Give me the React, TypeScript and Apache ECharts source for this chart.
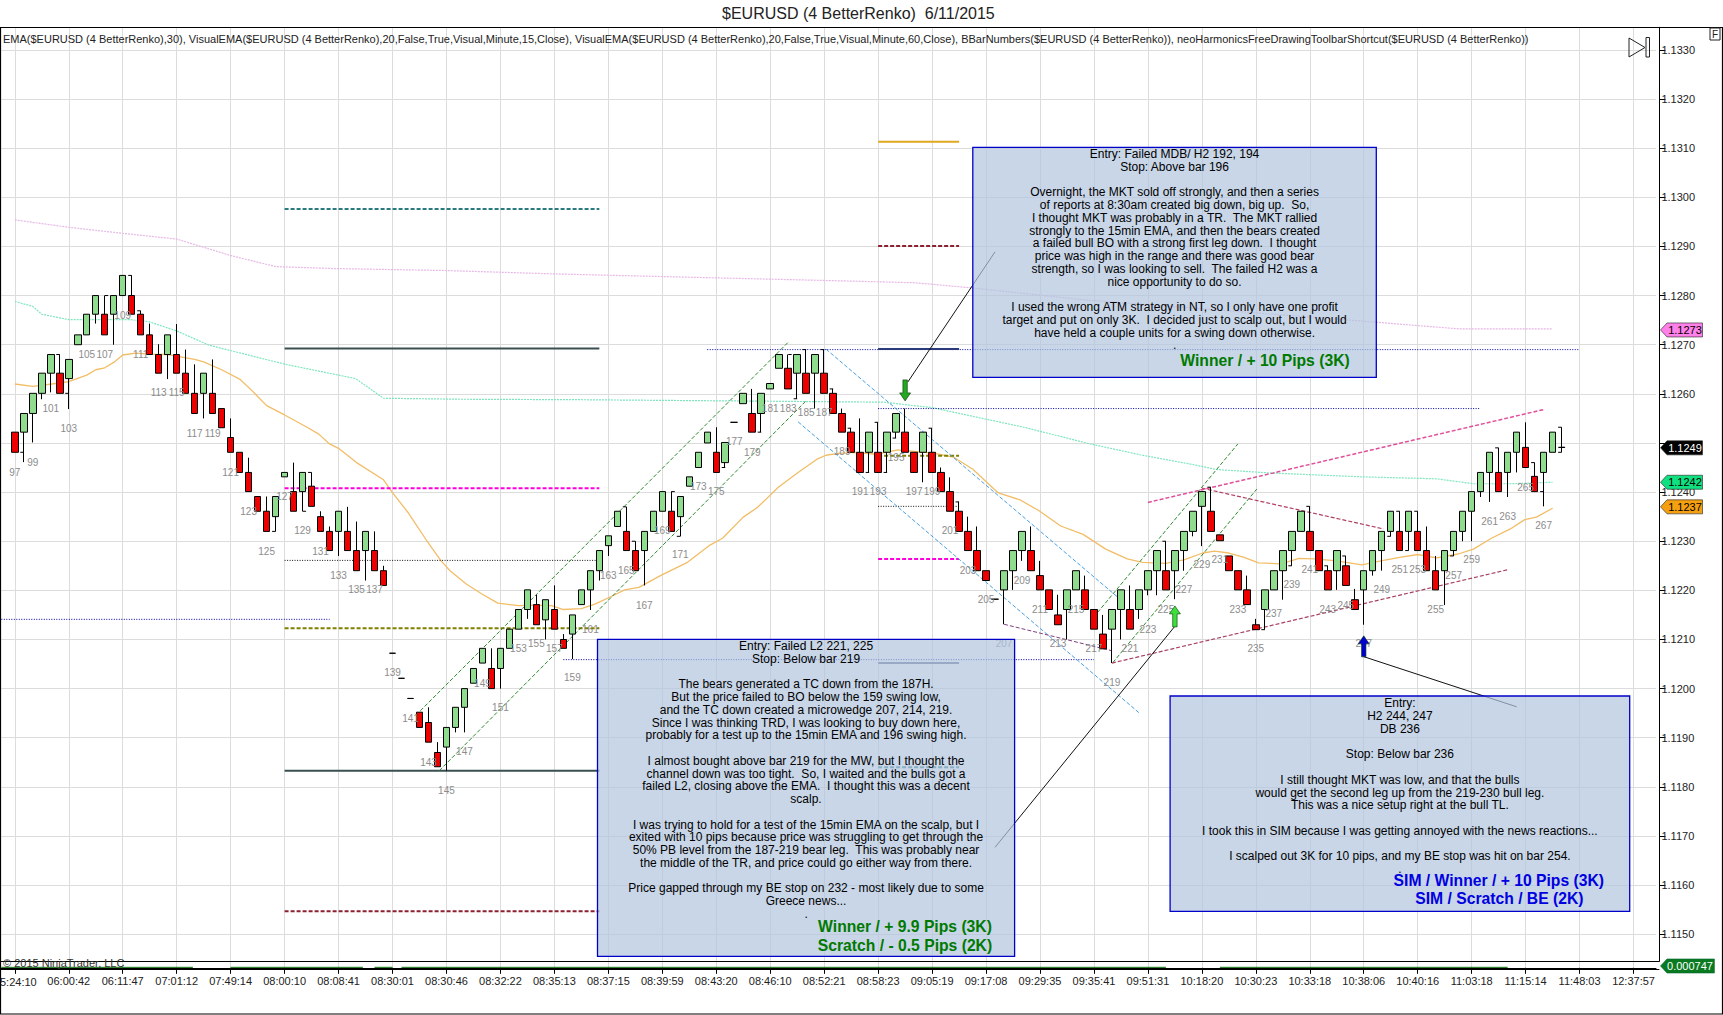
import React, { useEffect, useRef } from "react";
import * as echarts from "echarts";

const firstBar = 97;
// [open, close, low, high] for bars 97..269
const candlePips = [
[52.2,48.1,48.1,52.2],[52.2,56,46.1,56],[56,60.1,50.1,60.1],[60.1,64.2,58.9,64.2],[64.2,68,60.3,68],[64.2,60.1,60.1,68],[63.1,67,56.9,67],
[70,72,70,72],[72,76.2,72,76.2],[76.2,80,74.3,80],[76.2,72,72,80],[76.2,80,70,80],[80,84.1,80,84.1],[80,76.2,76.2,84.1],[76.2,72,72,76.9],
[72,68,68,74.3],[68,64.2,64.2,70.1],[68,72,63,72],[68,64.2,64.2,74.2],[64.2,60.1,60.1,69],[60.1,56,56,66],[60.1,64.2,55,64.2],[60.1,56,56,67],
[57,53.1,53.1,57],[51.1,48.1,48.1,55],[48.1,44,44,48.1],[44,40.1,40.1,47],[39.1,36.1,36.1,39.1],[36.1,32,32,39.1],[35,39.1,32,39.1],
[43.1,44,43.1,44],[40.1,36.1,36.1,46],[40.1,44,36.1,44],[41.2,37.1,37.1,44],[35,32,32,36.1],[32,28.1,28.1,33],[32,36.1,27,36.1],[32,28.1,28.1,37],
[28.1,24,24,34],[28.1,32,22,32],[28.1,24,24,32],[24,21,21,25],[7.2,7.2,7.2,7.2],[2.1,2.1,2.1,2.1],[-2,-2,-2,-2],[-4.8,-7.9,-7.9,-4.8],
[-6.9,-10.9,-10.9,-3.8],[-13,-15.9,-15.9,-10.9],[-11.9,-7.9,-16.7,-7.9],[-7.9,-3.8,-8.9,-3.8],[-3.8,0,-8.9,0],[1.1,4.1,1.1,4.1],[5.2,8.2,5.2,8.2],
[4.1,0,0,8.2],[4.1,8.2,0,8.2],[8.2,12.1,8.2,12.1],[12.1,16.1,12.1,16.1],[16.1,20.1,14.2,20.1],[17.1,13,13,19.1],[14,18.1,10,18.1],[16.1,12.1,12.1,21],
[10,8.2,8.2,11.1],[11.1,15,6,15],[17.1,20.1,17.1,20.1],[20.1,24,16,24],[24,28.1,22,28.1],[29.1,31.1,27,31.1],[33,36.1,33,36.1],[32,28.1,28.1,37],
[28.1,24,24,30],[28.1,32,21,32],[32,36.1,32,36.1],[36.1,40.1,36.1,40.1],[36.1,32,32,40.1],[35,39.1,31,39.1],[41.2,43.1,41.2,43.1],[45,48.1,45,48.1],
[50,52.2,50,52.2],[48.1,44,44,53.2],[46,50.1,45,50.1],[54.2,54.2,54.2,54.2],[58,60.1,58,60.1],[56,52.2,52.2,61],[56,60.1,52.2,60.1],[61,62.1,61,62.1],
[65.2,68,65.2,68],[65.2,61,61,68],[64.2,68,59,68],[64.2,60.1,60.1,69],[64.2,68,57,68],[64.2,60.1,60.1,69],[60.1,56,56,61],[56,52.2,52.2,57],
[52.2,48.1,48.1,53],[48.1,44,44,55],[48.1,52.2,44,52.2],[48.1,44,44,54.2],[48.1,52.2,44,52.2],[52.2,56,51,56],[52.2,48.1,48.1,57],[48.1,44,44,48.1],
[48.1,52.2,42,52.2],[48.1,44,44,53],[44,40.1,40.1,45],[40.1,36.1,36.1,43],[36.1,32,32,38],[32,28.1,28.1,35],[28.1,24,24,33],[24,22,22,24],
[18.2,18.2,18.2,18.2],[20.1,24,13.1,24],[24,28.1,20.1,28.1],[28.1,32,26,32],[28.1,24,24,33],[23,20.1,20.1,26],[20.1,16.1,16.1,20.1],[15,13,13,19.1],
[16.1,20.1,10,20.1],[20.1,24,20.1,24],[20.1,16.1,16.1,23],[16.1,12.1,12.1,16.1],[11.1,8.1,8.1,15],[12.1,16.1,5.2,16.1],[16.1,20.1,10,20.1],
[16.1,12.1,12.1,21],[16.1,20.1,14.2,20.1],[20.1,24,19,24],[24,28.1,19,28.1],[24,20.1,20.1,30],[24,28.1,18.2,28.1],[28.1,32,24,32],[32,36.1,31,36.1],
[37.1,40.1,29,40.1],[36.1,32,32,41],[31.3,30.1,30.1,31.3],[27,24,24,27],[24,20.1,20.1,24],[20.1,17.1,17.1,23],[13,12,12,14.2],[16.1,20.1,12,20.1],
[20.1,24,20.1,24],[24,28.1,18.1,28.1],[28.1,32,25,32],[32,36.1,32,36.1],[32,28.1,28.1,37.1],[28.1,24,24,28.1],[24,20.1,20.1,25],[24,28.1,20.1,28.1],
[25,21,21,27],[18.1,16.1,16.1,20.3],[20.1,24,13,24],[24,28.1,23,28.1],[28.1,32,24,32],[32,36.1,31,36.1],[32,28.1,28.1,36.1],[32,36.1,28.1,36.1],
[32,28.1,28.1,36.1],[28.1,24,24,33],[24,20.1,20.1,27],[24,28.1,17,28.1],[28.1,32,27,32],[32,36.1,30,36.1],[36.1,40.1,30,40.1],[40.1,44,39,44],
[44,48.1,38,48.1],[44,40.1,40.1,49],[44,48.1,39,48.1],[48.1,52.2,44,52.2],[49.1,45,45,54.2],[43.2,40.1,40.1,46],[44,48.1,37.1,48.1],[48.1,52.2,48.1,52.2],
[49.1,49.1,48.1,53.2],
];
// small side ticks on the wicks: [bar, pips, direction]
const wickTicks = [
[98,48.1,-1],[102,68,-1],[103,60.1,-1],[107,80,1],[110,84.1,-1],[111,76.9,-1],[126,32,-1],[129,36.1,1],[130,44,-1],[165,37,-1],[166,30,-1],[170,40.1,1],
[171,31,-1],[176,45,-1],[180,52.2,-1],[183,68,1],[184,59,-1],[185,69,-1],[187,69,-1],[188,61,-1],[190,53,-1],[192,44,-1],[193,54.2,-1],[194,44,-1],
[195,51,-1],[199,53,-1],[202,38,-1],[225,30,-1],[230,41,-1],[236,12,-1],[239,25,-1],[241,37.1,-1],[243,25,-1],[245,27,-1],[250,31,-1],[251,36.1,-1],
[252,28.1,-1],[253,36.1,-1],[257,27,-1],[262,49,-1],[266,46,-1],[267,40.1,-1],[269,53.2,-1],[269,49.1,1],[269,48.1,-1],
];
// [bar, pips, text]
const barNumberLabels = [
[97,44,"97"],[99,46.1,"99"],[101,57,"101"],[103,53,"103"],[105,68.1,"105"],[107,68.1,"107"],[109,76,"109"],[111,68.1,"111"],[113,60.2,"113"],[115,60.2,"115"],
[117,52,"117"],[119,52,"119"],[121,44,"121"],[123,36.1,"123"],[125,28,"125"],[127,39.1,"127"],[129,32.1,"129"],[131,28,"131"],[133,23.1,"133"],[135,20.1,"135"],
[137,20.1,"137"],[139,3.2,"139"],[141,-6,"141"],[143,-15,"143"],[145,-20.8,"145"],[147,-12.8,"147"],[149,1.1,"149"],[151,-3.9,"151"],[153,8.1,"153"],[155,9.1,"155"],
[157,8.1,"157"],[159,2.2,"159"],[161,12.1,"161"],[163,23.1,"163"],[165,24.1,"165"],[167,17,"167"],[169,32.1,"169"],[171,27.2,"171"],[173,41.1,"173"],[175,40.1,"175"],
[177,50.3,"177"],[179,48.1,"179"],[181,57,"181"],[183,57,"183"],[185,56.1,"185"],[187,56.1,"187"],[189,48.2,"189"],[191,40.1,"191"],[193,40.1,"193"],[195,47.1,"195"],
[197,40.1,"197"],[199,40.1,"199"],[201,32.1,"201"],[203,24.1,"203"],[205,18.1,"205"],[207,9.1,"207"],[209,22.1,"209"],[211,16.2,"211"],[213,9.1,"213"],[215,16.2,"215"],
[217,8.1,"217"],[219,1.3,"219"],[221,8.1,"221"],[223,12.1,"223"],[225,16.2,"225"],[227,20.1,"227"],[229,25.2,"229"],[231,26.2,"231"],[233,16.2,"233"],[235,8.1,"235"],
[237,15.2,"237"],[239,21.1,"239"],[241,24.2,"241"],[243,16.2,"243"],[245,16.9,"245"],[247,9.1,"247"],[249,20.1,"249"],[251,24.2,"251"],[253,24.2,"253"],[255,16.2,"255"],
[257,23.1,"257"],[259,26.2,"259"],[261,34.1,"261"],[263,35.1,"263"],[265,41,"265"],[267,33.2,"267"],
];
const firstTimeLabel = "5:24:10";
const timeLabels = ["","06:00:42","06:11:47","07:01:12","07:49:14","08:00:10","08:08:41","08:30:01","08:30:46","08:32:22","08:35:13","08:37:15","08:39:59","08:43:20","08:46:10","08:52:21","08:58:23","09:05:19","09:17:08","09:29:35","09:35:41","09:51:31","10:18:20","10:30:23","10:33:18","10:38:06","10:40:16","11:03:18","11:15:14","11:48:03","12:37:57"];

// [bar, pips]
const ema30 = [[97,62],[99,61.5],[102,62.2],[103,62.5],[105,63.8],[106,64.9],[107,65.3],[108,66.4],[109,67.9],[110.4,68.3],[112,68.1],[114,68],[117,67],[118,66.5],[120,64.9],[122,63],[123.4,60.6],[125,57.6],[127,55.7],[129.5,53.2],[130.8,51.8],[132,49.8],[133,48.9],[135,46],[138,42.5],[139,39.9],[140.7,35.9],[142.7,30.4],[144.4,26],[145.4,24],[147.2,21.3],[148.9,19.3],[150.7,17.4],[153,16.9],[154.6,17],[156.7,16.9],[158,16.1],[160,16.3],[161.5,17.2],[163.5,18.9],[164.8,20.1],[166.4,20.6],[168.9,23.1],[171.8,25.7],[174.2,29.1],[175.7,30.6],[178,34.9],[179.6,36.9],[181.9,41],[184.1,44],[186.2,46.7],[187.2,47.5],[188.6,47.9],[190.3,48.1],[192.8,47.7],[195.2,48.6],[199.3,47.9],[201.4,47.1],[203.5,44.7],[206.3,39.9],[208.8,38.4],[210.9,36.2],[213.3,33.1],[215.8,31.4],[218.3,28.4],[220.7,26.4],[222.4,25.7],[225,25.5],[227,26.2],[229.1,27.6],[230.4,28],[232,27.6],[233.7,26.7],[235.3,25.6],[237.8,25.4],[239.8,26.5],[241.5,26.4],[244,26],[246.8,25.2],[248.9,26],[251,26.7],[253,27.3],[255.1,26.6],[257.5,27.4],[259.2,28.4],[261.2,30.6],[263.3,32.5],[264.9,34.4],[266.2,34.9],[268,36.7]];
const ema15m = [[97,78.8],[99,77.8],[100,76.2],[103,75.1],[109.8,75.1],[111.9,74.7],[115,72.8],[118.6,69.9],[127.1,66],[134.9,63.1],[138,59.1],[146.4,58.9],[160,58.8],[180.4,58.5],[193.6,58.3],[196.5,57.7],[199,57.2],[209.2,53.2],[216.6,49.8],[222.1,47.6],[228.3,45.5],[230.6,44.6],[236.5,43.9],[246.8,43.1],[255.1,42.7],[259.2,41.7],[263.3,41.7],[268,42]];
const ema60m = [[97,95.4],[103,93.9],[109.8,92.5],[115,91.5],[120.9,88.2],[126,85.9],[132.4,85.5],[144.8,85.1],[157.1,84.4],[175,83.6],[191,82.9],[197.1,82.6],[203.2,81.6],[215.5,79.2],[244.8,75.1],[257.7,73.2],[268,73.2]];

// [name, startBar, endBar, pips, colour, width, dash]
const levels = [
["teal1",127,162,97.6,"#2a7a80",2,"dashed"],["dark1",127,162,69.2,"#3a4f4f",2,"solid"],["magenta1",127,162,40.8,"#ff00dd",2,"dashed"],["black1",127,162,26.1,"#111111",1,"dotted"],
["olive1",127,162,12.3,"#808000",2,"dashed"],["dark1b",127,162,-16.7,"#3a4f4f",2,"solid"],["red1",127,162,-45.3,"#8b2030",2,"dashed"],
["blueA",95.5,132,14.1,"#0000a0",1,"dotted"],["blueB",158,217,5.9,"#0000a0",1,"dotted"],["blueC",174,271,69,"#0000a0",1,"dotted"],["blueD",193,260,57,"#0000a0",1,"dotted"],
["gold2",193,202,111.3,"#e0a820",2,"solid"],["red2",193,202,90.1,"#8b2030",2,"dashed"],["navy2",193,202,69.1,"#2a3a7a",2,"solid"],["olive2",193,202,47.4,"#808000",2,"dashed"],
["black2",193,202,37.1,"#111111",1,"dotted"],["magenta2",193,202,26.4,"#ff00dd",2,"dashed"],["slate2",193,202,5.2,"#5a6a8a",2,"solid"],["teal2",193,202,-16,"#2a7a80",2,"dashed"],
];
// [name, bar1, pips1, bar2, pips2, colour, width, dash]
const trendLines = [
["upperUp1",142.1,-4.5,183,70.5,"#2e8b2e",1,"dashed"],["lowerUp1",144.2,-16.7,185,58.6,"#2e8b2e",1,"dashed"],
["upperDown",187.2,69.1,220.1,17.9,"#4aa0e0",1,"dashed"],["lowerDown",184.1,54.3,222,-4.9,"#4aa0e0",1,"dashed"],
["upperUp2",217.4,15.5,233,49.8,"#2e8b2e",1,"dashed"],["lowerUp2",219.1,5.3,235.1,40.6,"#2e8b2e",1,"dashed"],
["wedge",207,13.1,219,7.7,"#804080",1,"dashed"],["bullTL",219,5.2,263,24.2,"#a84060",1.2,"dashed"],["bearTL",229,40.8,249.2,32.5,"#b04060",1.2,"dashed"],
["topTL",223,37.9,267,56.8,"#e0509a",1.5,"dashed"],
["note1",196.3,62.4,206,88.9,"#111111",1,"solid"],["note2",226,12.7,206,-32.3,"#111111",1,"solid"],["note3",247,6.5,264,-3.7,"#111111",1,"solid"],
];
// [bar, pips at centre, colour, rotation]
const entryArrows = [[196,60.7,"#22a822",180],[226,14.7,"#3ce03c",0],[247,8.6,"#0000d0",0]];
// [quote text, pips, fill, text colour]
const priceTags = [["1.1273",73,"#ff80e8","#000"],["1.1249",49,"#000000","#fff"],["1.1242",42,"#10e080","#000"],["1.1237",37,"#f5a010","#000"]];
const indicatorSpans = [[95.5,116.8],[121,135.7],[137,139],[140,225],[231,263]];
const indicatorLevel = 0.0002;
const indicatorLast = 0.000747;

const noteA = `Entry: Failed MDB/ H2 192, 194
Stop: Above bar 196

Overnight, the MKT sold off strongly, and then a series
of reports at 8:30am created big down, big up.  So,
I thought MKT was probably in a TR.  The MKT rallied
strongly to the 15min EMA, and then the bears created
a failed bull BO with a strong first leg down.  I thought
price was high in the range and there was good bear
strength, so I was looking to sell.  The failed H2 was a
nice opportunity to do so.

I used the wrong ATM strategy in NT, so I only have one profit
target and put on only 3K.  I decided just to scalp out, but I would
have held a couple units for a swing down otherwise.
.`;
const noteB = `Entry: Failed L2 221, 225
Stop: Below bar 219

The bears generated a TC down from the 187H.
But the price failed to BO below the 159 swing low,
and the TC down created a microwedge 207, 214, 219.
Since I was thinking TRD, I was looking to buy down here,
probably for a test up to the 15min EMA and 196 swing high.

I almost bought above bar 219 for the MW, but I thought the
channel down was too tight.  So, I waited and the bulls got a
failed L2, closing above the EMA.  I thought this was a decent
scalp.

I was trying to hold for a test of the 15min EMA on the scalp, but I
exited with 10 pips because price was struggling to get through the
50% PB level from the 187-219 bear leg.  This was probably near
the middle of the TR, and price could go either way from there.

Price gapped through my BE stop on 232 - most likely due to some
Greece news...
.`;
const noteC = `Entry:
H2 244, 247
DB 236

Stop: Below bar 236

I still thought MKT was low, and that the bulls
would get the second leg up from the 219-230 bull leg.
This was a nice setup right at the bull TL.

I took this in SIM because I was getting annoyed with the news reactions...

I scalped out 3K for 10 pips, and my BE stop was hit on bar 254.
.`;
const titleText = "$EURUSD (4 BetterRenko)  6/11/2015";
const indicatorText = "EMA($EURUSD (4 BetterRenko),30), VisualEMA($EURUSD (4 BetterRenko),20,False,True,Visual,Minute,15,Close), VisualEMA($EURUSD (4 BetterRenko),20,False,True,Visual,Minute,60,Close), BBarNumbers($EURUSD (4 BetterRenko)), neoHarmonicsFreeDrawingToolbarShortcut($EURUSD (4 BetterRenko))";

const FONT = '"Liberation Sans", Arial, sans-serif';
const px = (p: number) => +(1.12 + p / 10000).toFixed(5);
const BAND = 8.993;
const BANDS = 184;
const LEFT = 1.31;
const firstCat = firstBar - 1;
const barCats = Array.from({ length: BANDS }, (_, i) => String(firstCat + i));
const isGrid = (i: number) => i >= 1 && (i - 1) % 6 === 0 && (i - 1) / 6 < timeLabels.length;

function lineSeries(name: string, pts: number[][], color: string, width: number, type: string) {
  return {
    name, type: "line", xAxisIndex: 1, yAxisIndex: 0, data: pts.map((d) => [d[0], px(d[1])]),
    showSymbol: false, symbol: "none", silent: true, z: 3, clip: true,
    lineStyle: { color, width, type: type === "dashed" ? [4, 2] : type === "dotted" ? [1, 1.5] : type === "fine" ? [2, 1] : "solid" },
  };
}

function noteBox(x: number, y: number, w: number, h: number, text: string, firstLineY: number) {
  return [
    { type: "rect", z: 100, shape: { x, y, width: w, height: h }, style: { fill: "rgba(176,196,222,0.7)", stroke: "#0000c8", lineWidth: 1.3 } },
    { type: "text", z: 101, style: { x: x + w / 2, y: firstLineY - 6.375, text, align: "center", verticalAlign: "top", font: `12px ${FONT}`, lineHeight: 12.75, fill: "#000" } },
  ];
}
function boldNote(x: number, y: number, text: string, fill: string) {
  return { type: "text", z: 102, style: { x, y, text, align: "center", verticalAlign: "middle", font: `bold 15.7px ${FONT}`, fill } };
}

export default function App() {
  const ref = useRef<HTMLDivElement>(null);
  useEffect(() => {
    const chart = echarts.init(ref.current!, undefined, { renderer: "svg" });
    const candleData = barCats.map((c) => {
      const row = candlePips[Number(c) - firstBar];
      return row ? row.map(px) : ["-", "-", "-", "-"];
    });
    const arrowPath = "path://M5 0 L10 8 L7 8 L7 21 L3 21 L3 8 L0 8 Z";
    const option: any = {
      animation: false,
      backgroundColor: "#fff",
      textStyle: { fontFamily: FONT },
      grid: [
        { left: LEFT, top: 27.3, width: BAND * BANDS, height: 934, outerBoundsMode: "none" },
        { left: LEFT, top: 961.3, width: BAND * BANDS, height: 7.7, outerBoundsMode: "none" },
      ],
      xAxis: [
        {
          type: "category", gridIndex: 0, data: barCats, boundaryGap: true,
          axisLine: { show: false }, axisTick: { show: false }, axisLabel: { show: false },
          splitLine: { show: true, alignWithLabel: true, interval: (i: number) => isGrid(i), lineStyle: { color: "#dcdcdc", width: 1 } },
        },
        { type: "value", gridIndex: 0, min: firstCat - 0.5, max: firstCat - 0.5 + BANDS, show: false, splitLine: { show: false } },
        {
          type: "category", gridIndex: 1, data: barCats, boundaryGap: true,
          axisLine: { show: true, lineStyle: { color: "#000", width: 1 } },
          axisTick: { show: true, alignWithLabel: true, length: 6, interval: (i: number) => isGrid(i), lineStyle: { color: "#000" } },
          splitLine: { show: true, alignWithLabel: true, interval: (i: number) => isGrid(i), lineStyle: { color: "#dcdcdc" } },
          axisLabel: {
            show: true, interval: (i: number) => isGrid(i) && i > 1, margin: 6, fontSize: 11, color: "#222", fontFamily: FONT, hideOverlap: false,
            formatter: (_: string, i: number) => timeLabels[(i - 1) / 6] ?? "",
          },
        },
        { type: "value", gridIndex: 1, min: firstCat - 0.5, max: firstCat - 0.5 + BANDS, show: false, splitLine: { show: false } },
      ],
      yAxis: [
        {
          type: "value", gridIndex: 0, position: "right", offset: 3.4, min: 1.11445, max: 1.13346, splitNumber: 19, scale: true,
          axisLine: { show: true, onZero: false, lineStyle: { color: "#000", width: 1 } },
          axisTick: { show: true, length: 6, lineStyle: { color: "#000" } },
          axisLabel: {
            show: true, margin: 2, fontSize: 11, color: "#222", fontFamily: FONT, showMinLabel: false, showMaxLabel: false,
            // the 1.1250 tick label sits hidden behind the 1.1249 last-price tag in the reference
            formatter: (v: number) => (v.toFixed(4) === "1.1250" ? "" : v.toFixed(4)),
          },
          splitLine: { show: true, lineStyle: { color: "#dcdcdc", width: 1 } },
        },
        { type: "value", gridIndex: 1, min: -0.0005, max: 0.0027, show: false, splitLine: { show: false } },
      ],
      series: [
        {
          name: "$EURUSD", type: "candlestick", xAxisIndex: 0, yAxisIndex: 0, data: candleData, barWidth: 7, z: 4, silent: true, clip: false,
          itemStyle: { color: "#8fdc8f", color0: "#ee0000", borderColor: "#000", borderColor0: "#000", borderColorDoji: "#000", borderWidth: 1 },
        },
        {
          name: "wick ticks", type: "custom", xAxisIndex: 1, yAxisIndex: 0, z: 4, silent: true,
          data: wickTicks.map((t) => [t[0], px(t[1]), t[2]]),
          encode: { x: 0, y: 1 },
          renderItem: (_: any, api: any) => {
            const p = api.coord([api.value(0), api.value(1)]);
            return { type: "line", shape: { x1: p[0], y1: p[1], x2: p[0] + api.value(2) * 3.5, y2: p[1] }, style: { stroke: "#000", lineWidth: 1 } };
          },
        },
        lineSeries("EMA 30", ema30, "#f2bd66", 1.3, "solid"),
        lineSeries("EMA 15min", ema15m, "#7ee6bd", 1.2, "fine"),
        lineSeries("EMA 60min", ema60m, "#e6b8e6", 1.2, "fine"),
        ...levels.map((l: any) => lineSeries(l[0], [[l[1], l[3]], [l[2], l[3]]], l[4], l[5], l[6])),
        ...trendLines.map((l: any) => lineSeries(l[0], [[l[1], l[2]], [l[3], l[4]]], l[5], l[6], l[7])),
        {
          name: "bar numbers", type: "scatter", xAxisIndex: 1, yAxisIndex: 0, symbol: "circle", symbolSize: 1, silent: true, z: 5,
          itemStyle: { opacity: 0 },
          data: barNumberLabels.map((b: any) => ({ value: [b[0], px(b[1])], label: { formatter: b[2] } })),
          label: { show: true, position: "inside", fontSize: 10, color: "#8c8c8c", fontFamily: FONT, opacity: 1 },
        },
        ...entryArrows.map((a: any, i: number) => ({
          name: "entry arrow " + i, type: "scatter", xAxisIndex: 1, yAxisIndex: 0, silent: true, z: 6,
          symbol: arrowPath, symbolSize: [11, 21], symbolRotate: a[3], symbolKeepAspect: false,
          data: [[a[0], px(a[1])]],
          itemStyle: { color: a[2], borderColor: "#0b3d0b", borderWidth: 0.6, opacity: 1 },
        })),
        {
          name: "indicator", type: "line", xAxisIndex: 3, yAxisIndex: 1, symbol: "none", showSymbol: false, silent: true, z: 3,
          lineStyle: { color: "#006400", width: 1 }, connectNulls: false,
          data: indicatorSpans.flatMap((s) => [[s[0], indicatorLevel], [s[1], indicatorLevel], [s[1] + 0.1, null]]),
        },
        {
          name: "price tags", type: "custom", xAxisIndex: 1, yAxisIndex: 0, z: 20, silent: true, clip: false,
          data: priceTags.map((t: any) => [firstCat - 0.5 + BANDS, px(t[1]), t[0], t[2], t[3]]),
          encode: { x: 0, y: 1 },
          renderItem: (params: any, api: any) => {
            const t: any = priceTags[params.dataIndex];
            const p = api.coord([api.value(0), px(t[1])]);
            const y = p[1];
            return {
              type: "group",
              children: [
                { type: "polygon", shape: { points: [[1660.5, y], [1667, y - 7], [1702.5, y - 7], [1702.5, y + 7], [1667, y + 7]] }, style: { fill: t[2], stroke: "#222", lineWidth: 0.6 } },
                { type: "text", style: { x: 1685, y, text: t[0], align: "center", verticalAlign: "middle", font: `11px ${FONT}`, fill: t[3] } },
              ],
            };
          },
        },
        {
          name: "indicator tag", type: "custom", xAxisIndex: 3, yAxisIndex: 1, z: 20, silent: true, clip: false,
          data: [[firstCat - 0.5 + BANDS, indicatorLast]],
          encode: { x: 0, y: 1 },
          renderItem: (_: any, api: any) => {
            const y = api.coord([api.value(0), indicatorLast])[1];
            return {
              type: "group",
              children: [
                { type: "polygon", shape: { points: [[1660.5, y], [1667, y - 7], [1714.4, y - 7], [1714.4, y + 7], [1667, y + 7]] }, style: { fill: "#0a7a20", stroke: "#063", lineWidth: 0.6 } },
                { type: "text", style: { x: 1690, y, text: indicatorLast.toFixed(6), align: "center", verticalAlign: "middle", font: `11px ${FONT}`, fill: "#fff" } },
              ],
            };
          },
        },
      ],
      graphic: { elements: [
        { type: "text", z: 50, style: { x: 858.4, y: 13.3, text: titleText, align: "center", verticalAlign: "middle", font: `16px ${FONT}`, fill: "#222" } },
        { type: "text", z: 50, style: { x: 3, y: 39, text: indicatorText, align: "left", verticalAlign: "middle", font: `11px ${FONT}`, fill: "#222" } },
        { type: "text", z: 50, style: { x: 0, y: 982, text: firstTimeLabel, align: "left", verticalAlign: "middle", font: `11px ${FONT}`, fill: "#222" } },
        { type: "rect", z: 49, shape: { x: 0.5, y: 27.5, width: 1722, height: 986.5 }, style: { fill: "none", stroke: "#000", lineWidth: 1.2 } },
        { type: "line", z: 49, shape: { x1: 0, y1: 961.5, x2: 1659.4, y2: 961.5 }, style: { stroke: "#000", lineWidth: 1 } },
        { type: "line", z: 49, shape: { x1: 0, y1: 969.5, x2: 1659.4, y2: 969.5 }, style: { stroke: "#000", lineWidth: 1 } },
        { type: "text", z: 50, style: { x: 3, y: 963, text: "© 2015 NinjaTrader, LLC", align: "left", verticalAlign: "middle", font: `11px ${FONT}`, fill: "#333" } },
        { type: "polygon", z: 50, shape: { points: [[1629, 38], [1645, 47.5], [1629, 57]] }, style: { fill: "none", stroke: "#222", lineWidth: 1 } },
        { type: "rect", z: 50, shape: { x: 1646, y: 37.5, width: 3.5, height: 19.5 }, style: { fill: "none", stroke: "#222", lineWidth: 1 } },
        { type: "rect", z: 50, shape: { x: 1710, y: 28, width: 10, height: 12 }, style: { fill: "#fff", stroke: "#222", lineWidth: 1 } },
        { type: "text", z: 51, style: { x: 1715, y: 34.5, text: "F", align: "center", verticalAlign: "middle", font: `10px ${FONT}`, fill: "#222" } },
        ...noteBox(972.8, 147.3, 403.5, 230, noteA, 154),
        boldNote(1265, 360, "Winner / + 10 Pips (3K)", "#007a00"),
        ...noteBox(597.5, 639.3, 417.1, 317, noteB, 646),
        boldNote(905, 926.7, "Winner / + 9.9 Pips (3K)", "#007a00"),
        boldNote(905, 945, "Scratch / - 0.5 Pips (2K)", "#007a00"),
        ...noteBox(1170.1, 696, 459.6, 215.3, noteC, 703.3),
        boldNote(1498.8, 880, "SIM / Winner / + 10 Pips (3K)", "#0000e0"),
        boldNote(1499.4, 898, "SIM / Scratch / BE (2K)", "#0000e0"),
      ] },
    };
    chart.setOption(option);
    return () => chart.dispose();
  }, []);
  return <div ref={ref} style={{ position: "absolute", left: 0, top: 0, width: 1723, height: 1015 }} />;
}
